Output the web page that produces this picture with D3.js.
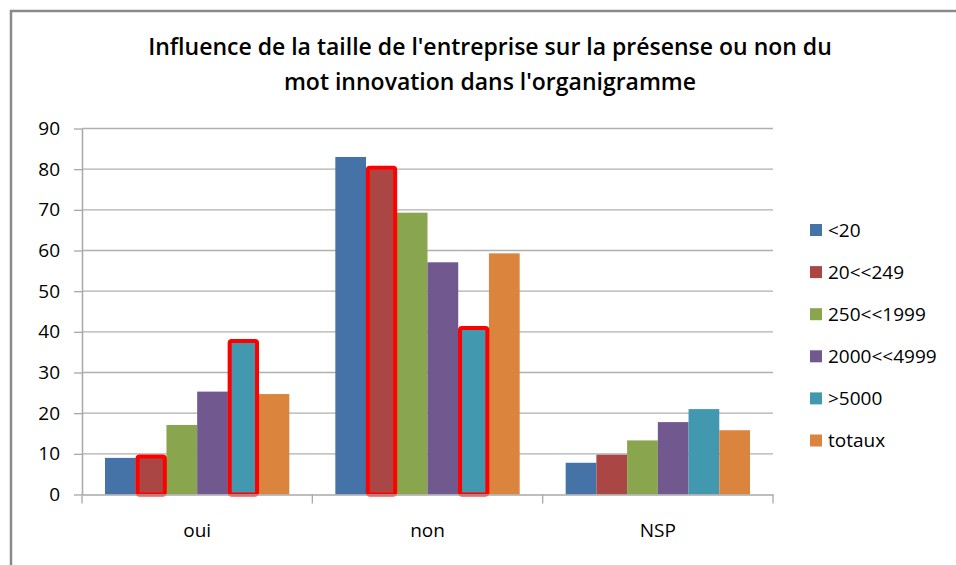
<!DOCTYPE html>
<html>
<head>
<meta charset="utf-8">
<script src="https://cdn.jsdelivr.net/npm/d3@7"></script>
<style>
  body { margin: 0; background: #fff; }
  svg { display: block; font-family: 'Open Sans', sans-serif; }
</style>
</head>
<body>
<div id="chart"></div>
<script>
const titleLines = [
  "Influence de la taille de l'entreprise sur la présense ou non du",
  "mot innovation dans l'organigramme"
];
const categories = ['oui', 'non', 'NSP'];
const seriesNames = ['<20', '20<<249', '250<<1999', '2000<<4999', '>5000', 'totaux'];
const seriesColors = ['#4572A7', '#AA4643', '#89A54E', '#71588F', '#4198AF', '#DB843D'];
const lt20 = [9, 83, 7.8];
const s20to249 = [9, 80, 9.8];
const s250to1999 = [17.1, 69.3, 13.3];
const s2000to4999 = [25.3, 57.1, 17.8];
const gt5000 = [37.4, 40.6, 21];
const totaux = [24.7, 59.3, 15.8];
const yTicks = [0, 10, 20, 30, 40, 50, 60, 70, 80, 90];
// bars outlined in red in the original
const highlighted = [['oui', '20<<249'], ['non', '20<<249'], ['oui', '>5000'], ['non', '>5000']];

const seriesValues = [lt20, s20to249, s250to1999, s2000to4999, gt5000, totaux];
const data = categories.map((c, i) => ({
  cat: c,
  values: seriesNames.map((s, j) => ({ cat: c, key: s, value: seriesValues[j][i] }))
}));

const W = 956, H = 565;
const plot = { left: 82, right: 773, top: 128.5, bottom: 494.5 };

const svg = d3.select('#chart').append('svg')
  .attr('width', W)
  .attr('height', H);

// chart frame
svg.append('rect')
  .attr('x', 11).attr('y', 11)
  .attr('width', W).attr('height', H)
  .attr('fill', 'none')
  .attr('stroke', '#8a8a8a')
  .attr('stroke-width', 2.5);

svg.append('g')
  .selectAll('text')
  .data(titleLines)
  .enter()
  .append('text')
  .attr('x', 490)
  .attr('y', (d, i) => 47 + i * 35)
  .attr('dy', '0.35em')
  .attr('text-anchor', 'middle')
  .style('font-weight', '600')
  .style('font-size', '23px')
  .attr('fill', '#000')
  .text(d => d);

const x0 = d3.scaleBand()
  .domain(categories)
  .range([plot.left, plot.right])
  .padding(0);

const gap = 23;
const x1 = d3.scaleBand()
  .domain(seriesNames)
  .range([gap, x0.bandwidth() - gap])
  .padding(0);

const y = d3.scaleLinear()
  .domain([0, 90])
  .range([plot.bottom, plot.top]);

const color = d3.scaleOrdinal().domain(seriesNames).range(seriesColors);

// gridlines
svg.append('g')
  .selectAll('line')
  .data(yTicks.filter(t => t > 0))
  .enter()
  .append('line')
  .attr('x1', plot.left).attr('x2', plot.right)
  .attr('y1', d => y(d)).attr('y2', d => y(d))
  .attr('stroke', '#b0b0b0')
  .attr('stroke-width', 1.3);

// y axis
svg.append('g')
  .attr('transform', `translate(${plot.left},0)`)
  .call(d3.axisLeft(y).tickValues(yTicks).tickSize(8).tickPadding(14).tickSizeOuter(0))
  .call(g => g.select('.domain').attr('stroke', '#a8a8a8').attr('stroke-width', 1.5))
  .call(g => g.selectAll('.tick line').attr('stroke', '#a8a8a8').attr('stroke-width', 1.3))
  .call(g => g.selectAll('.tick text').attr('fill', '#000').style('font-size', '19px').style('font-family', "'Open Sans', sans-serif"));

// bars
const groups = svg.append('g')
  .selectAll('g')
  .data(data)
  .enter()
  .append('g')
  .attr('transform', d => `translate(${x0(d.cat)},0)`);

groups.selectAll('rect')
  .data(d => d.values)
  .enter()
  .append('rect')
  .attr('x', d => x1(d.key))
  .attr('y', d => y(d.value))
  .attr('width', x1.bandwidth())
  .attr('height', d => y(0) - y(d.value))
  .attr('fill', d => color(d.key));

// red highlight outlines
groups.selectAll('.hl')
  .data(d => d.values.filter(v => highlighted.some(h => h[0] === v.cat && h[1] === v.key)))
  .enter()
  .append('rect')
  .attr('class', 'hl')
  .attr('x', d => x1(d.key) + 1.8)
  .attr('y', d => y(d.value) - 1.5)
  .attr('width', x1.bandwidth() - 3.4)
  .attr('height', d => y(0) - y(d.value) + 1.5)
  .attr('rx', 2)
  .attr('fill', 'none')
  .attr('stroke', '#ff0000')
  .attr('stroke-width', 4);

// x axis
svg.append('g')
  .attr('transform', `translate(0,${plot.bottom})`)
  .call(d3.axisBottom(x0).tickSize(0).tickPadding(29).tickSizeOuter(0))
  .call(g => g.select('.domain').attr('stroke', '#a8a8a8').attr('stroke-width', 1.5))
  .call(g => g.selectAll('.tick text').attr('fill', '#000').style('font-size', '19px').style('font-family', "'Open Sans', sans-serif"));

// category separators on x axis
svg.append('g')
  .selectAll('line')
  .data(categories)
  .enter()
  .append('line')
  .attr('x1', d => x0(d) + x0.bandwidth()).attr('x2', d => x0(d) + x0.bandwidth())
  .attr('y1', plot.bottom).attr('y2', plot.bottom + 9)
  .attr('stroke', '#a8a8a8')
  .attr('stroke-width', 1.3);

svg.append('line')
  .attr('x1', plot.left).attr('x2', plot.left)
  .attr('y1', plot.bottom).attr('y2', plot.bottom + 9)
  .attr('stroke', '#a8a8a8')
  .attr('stroke-width', 1.3);

// legend
const legend = svg.append('g')
  .selectAll('g')
  .data(seriesNames)
  .enter()
  .append('g')
  .attr('transform', (d, i) => `translate(810,${230 + i * 42.1})`);

legend.append('rect')
  .attr('x', 0).attr('y', -6)
  .attr('width', 12).attr('height', 12)
  .attr('fill', d => color(d));

legend.append('text')
  .attr('x', 18)
  .attr('dy', '0.35em')
  .style('font-size', '19px')
  .attr('fill', '#000')
  .text(d => d);
</script>
</body>
</html>
